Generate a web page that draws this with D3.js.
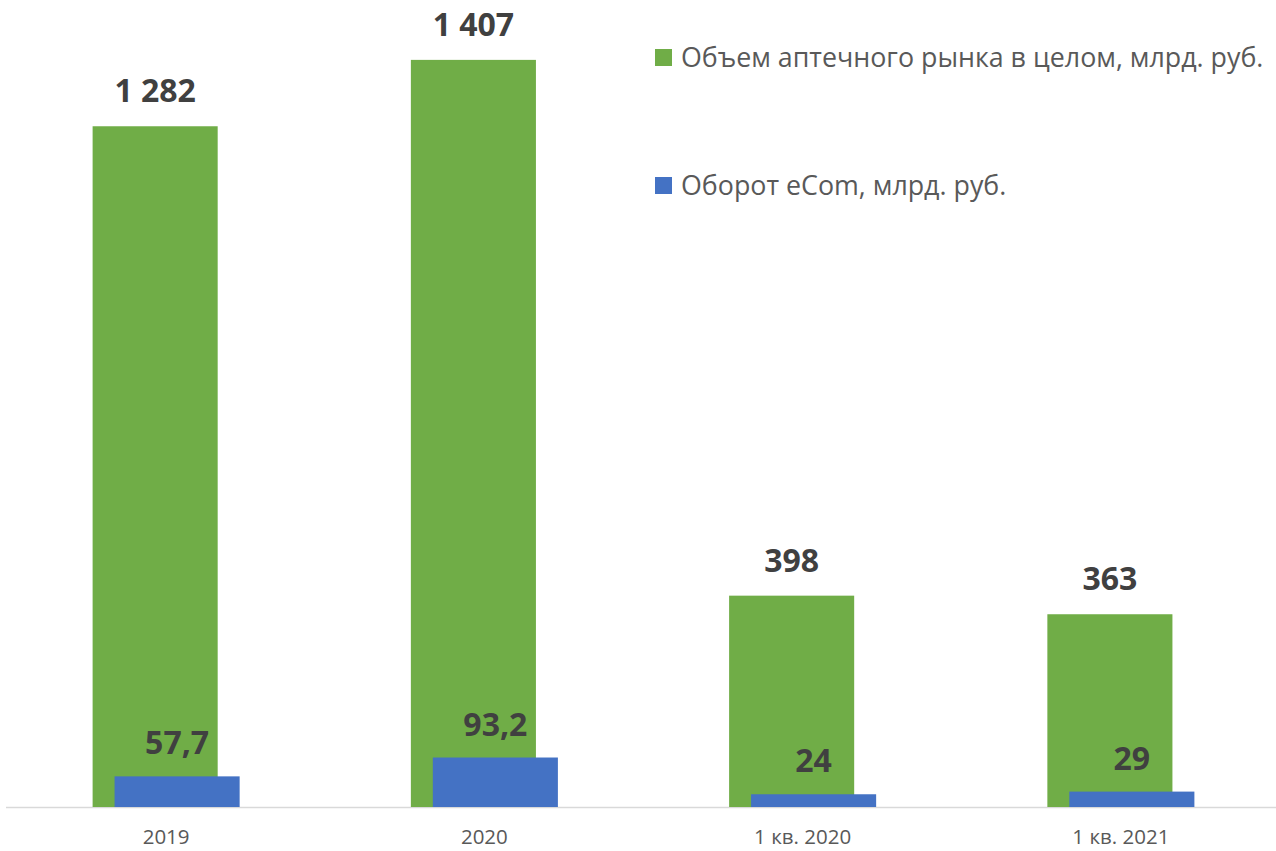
<!DOCTYPE html>
<html><head><meta charset="utf-8">
<script src="https://cdn.jsdelivr.net/npm/d3@7"></script>
<style>html,body{margin:0;padding:0;background:#fff;overflow:hidden}</style>
</head><body>
<svg id="chart" width="1276" height="851"></svg>
<script>
const categories = ["2019", "2020", "1 кв. 2020", "1 кв. 2021"];
const marketValues = [1282, 1407, 398, 363];
const ecomValues = [57.7, 93.2, 24, 29];
const marketLabels = ["1 282", "1 407", "398", "363"];
const ecomLabels = ["57,7", "93,2", "24", "29"];
const seriesNames = ["Объем аптечного рынка в целом, млрд. руб.", "Оборот eCom, млрд. руб."];
const seriesColors = ["#70ad47", "#4472c4"];

const svg = d3.select("#chart");
const FONT = "'Open Sans', sans-serif";
const baseY = 807;
const x = d3.scaleBand().domain(categories).range([7, 1280]).padding(0);
const y = d3.scaleLinear().domain([0, 1500]).range([baseY, baseY - 1500 * 0.531]);
const bw = x.bandwidth() * 0.393;
const off = x.bandwidth() * 0.069;

// axis line
svg.append("line").attr("x1", 6).attr("x2", 1276).attr("y1", baseY + 0.5).attr("y2", baseY + 0.5)
  .attr("stroke", "#d9d9d9").attr("stroke-width", 1.5);

const center = c => x(c) + x.bandwidth() / 2;

// green bars
svg.selectAll("rect.m").data(categories).join("rect").attr("class", "m")
  .attr("x", d => center(d) - off / 2 - bw / 2)
  .attr("width", bw)
  .attr("y", (d, i) => y(marketValues[i]))
  .attr("height", (d, i) => baseY - y(marketValues[i]))
  .attr("fill", seriesColors[0]);

// blue bars
svg.selectAll("rect.e").data(categories).join("rect").attr("class", "e")
  .attr("x", d => center(d) + off / 2 - bw / 2)
  .attr("width", bw)
  .attr("y", (d, i) => y(ecomValues[i]))
  .attr("height", (d, i) => baseY - y(ecomValues[i]))
  .attr("fill", seriesColors[1]);

// labels
svg.selectAll("text.ml").data(categories).join("text").attr("class", "ml")
  .attr("x", d => center(d) - off / 2)
  .attr("y", (d, i) => y(marketValues[i]) - 24)
  .attr("text-anchor", "middle").attr("font-family", FONT).attr("font-weight", 700)
  .attr("font-size", 32).attr("fill", "#404040")
  .text((d, i) => marketLabels[i]);

svg.selectAll("text.el").data(categories).join("text").attr("class", "el")
  .attr("x", d => center(d) + off / 2)
  .attr("y", (d, i) => y(ecomValues[i]) - 22)
  .attr("text-anchor", "middle").attr("font-family", FONT).attr("font-weight", 700)
  .attr("font-size", 32).attr("fill", "#404040")
  .text((d, i) => ecomLabels[i]);

// category axis labels
svg.selectAll("text.cat").data(categories).join("text").attr("class", "cat")
  .attr("x", d => center(d))
  .attr("y", 844)
  .attr("text-anchor", "middle").attr("font-family", FONT)
  .attr("font-size", 20.5).attr("fill", "#595959")
  .text(d => d);

// legend
const legendY = [57, 185];
seriesNames.forEach((name, i) => {
  svg.append("rect").attr("x", 655).attr("y", legendY[i] - 8).attr("width", 17).attr("height", 17)
    .attr("fill", seriesColors[i]);
  svg.append("text").attr("x", 681).attr("y", legendY[i] + 10)
    .attr("font-family", FONT).attr("font-size", 26.8).attr("fill", "#595959")
    .text(name);
});
</script>
</body></html>
